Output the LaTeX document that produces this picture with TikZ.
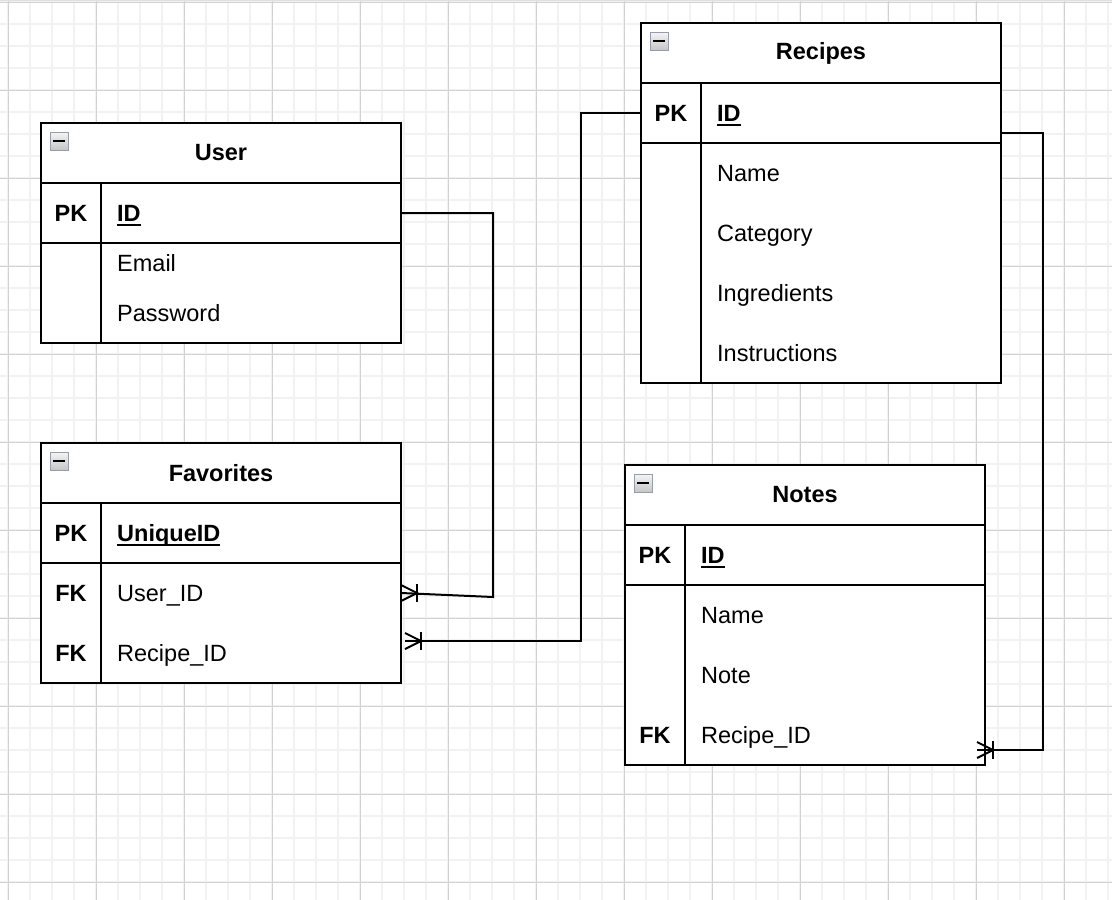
\documentclass[tikz,border=0pt]{standalone}
\usepackage{fontspec}
\setmainfont{Liberation Sans}
\usetikzlibrary{calc}

\newcommand{\erfont}{\fontsize{23.5}{28}\selectfont}
\newcommand{\pkname}[1]{\setbox0\hbox{#1}\rlap{\vrule width\wd0 height -3pt depth 5pt}\box0}
\definecolor{iconedge}{RGB}{150,156,172}

\tikzset{
  entity/.style={draw, line width=2pt, fill=white, anchor=north west, minimum width=360, inner sep=0, outer sep=0},
  titlerow/.style={draw, line width=2pt, anchor=north west, minimum width=360, minimum height=60, inner sep=0, outer sep=0, font=\erfont\bfseries},
  keyrow/.style={draw, line width=2pt, anchor=north west, minimum width=360, minimum height=60, inner sep=0, outer sep=0},
  fieldrow/.style={anchor=north west, minimum width=360, minimum height=60, inner sep=0, outer sep=0},
  keylabel/.style={anchor=base, yshift=-8.4pt, inner sep=0, font=\erfont\bfseries},
  field/.style={anchor=base west, yshift=-8.4pt, inner sep=0, font=\erfont},
  pkfield/.style={field, font=\erfont\bfseries},
  relline/.style={line width=2pt},
  minorgrid/.style={draw=gray!10, line width=1.5pt},
  majorgrid/.style={draw=gray!35, line width=1pt},
  minbox/.pic={
    \draw[draw=iconedge, line width=1pt, top color=gray!8, bottom color=gray!45] (0,0) rectangle (18,18);
    \draw[line width=2.5pt] (3,9) -- (15,9);
  },
  crowfoot/.pic={
    \draw[relline] (0,-8) -- (16,0) -- (0,8);
    \draw[relline] (16,-9) -- (16,9);
  }
}

\begin{document}
\begin{tikzpicture}[x=1pt, y=-1pt]
  \useasboundingbox[fill=white] (0,0) rectangle (1112,900);

  % grid
  \foreach \gx in {8,30,...,1112} \draw[minorgrid] (\gx,0) -- (\gx,900);
  \foreach \gy in {2,24,...,900} \draw[minorgrid] (0,\gy) -- (1112,\gy);
  \foreach \gx in {8,96,...,1112} \draw[majorgrid] (\gx,0) -- (\gx,900);
  \foreach \gy in {2,90,...,900} \draw[majorgrid] (0,\gy) -- (1112,\gy);
  \draw[draw=gray!25, line width=2pt] (0,0) -- (1112,0);

  % User
  \node[entity, minimum height=220] (user) at (41,123) {};
  \node[titlerow] (user-title) at (user.north west) {User};
  \node[keyrow] (user-pk) at (user-title.south west) {};
  \draw[relline] ($(user-pk.north west)+(60,0)$) -- ($(user.south west)+(60,0)$);
  \pic at ($(user-title.north west)+(9,9)$) {minbox};
  \node[keylabel] at ($(user-pk.west)+(30,0)$) {PK};
  \node[pkfield] (user-id) at ($(user-pk.west)+(76,0)$) {\pkname{ID}};
  \node[field] (user-email) at ($(user-pk.west)+(76,50)$) {Email};
  \node[field] (user-password) at ($(user-pk.west)+(76,100)$) {Password};

  % Favorites
  \node[entity, minimum height=240] (fav) at (41,443) {};
  \node[titlerow] (fav-title) at (fav.north west) {Favorites};
  \node[keyrow] (fav-pk) at (fav-title.south west) {};
  \node[fieldrow] (fav-user) at (fav-pk.south west) {};
  \node[fieldrow] (fav-recipe) at (fav-user.south west) {};
  \draw[relline] ($(fav-pk.north west)+(60,0)$) -- ($(fav.south west)+(60,0)$);
  \pic at ($(fav-title.north west)+(9,9)$) {minbox};
  \node[keylabel] at ($(fav-pk.west)+(30,0)$) {PK};
  \node[pkfield] (fav-uniqueid) at ($(fav-pk.west)+(76,0)$) {\pkname{UniqueID}};
  \node[keylabel] at ($(fav-user.west)+(30,0)$) {FK};
  \node[field] (fav-userid) at ($(fav-user.west)+(76,0)$) {User\_ID};
  \node[keylabel] at ($(fav-recipe.west)+(30,0)$) {FK};
  \node[field] (fav-recipeid) at ($(fav-recipe.west)+(76,0)$) {Recipe\_ID};

  % Recipes
  \node[entity, minimum height=360] (recipes) at (641,23) {};
  \node[titlerow] (recipes-title) at (recipes.north west) {Recipes};
  \node[keyrow] (recipes-pk) at (recipes-title.south west) {};
  \draw[relline] ($(recipes-pk.north west)+(60,0)$) -- ($(recipes.south west)+(60,0)$);
  \pic at ($(recipes-title.north west)+(9,9)$) {minbox};
  \node[keylabel] at ($(recipes-pk.west)+(30,0)$) {PK};
  \node[pkfield] (recipes-id) at ($(recipes-pk.west)+(76,0)$) {\pkname{ID}};
  \node[field] (recipes-name) at ($(recipes-pk.west)+(76,60)$) {Name};
  \node[field] (recipes-category) at ($(recipes-pk.west)+(76,120)$) {Category};
  \node[field] (recipes-ingredients) at ($(recipes-pk.west)+(76,180)$) {Ingredients};
  \node[field] (recipes-instructions) at ($(recipes-pk.west)+(76,240)$) {Instructions};

  % Notes
  \node[entity, minimum height=300] (notes) at (625,465) {};
  \node[titlerow] (notes-title) at (notes.north west) {Notes};
  \node[keyrow] (notes-pk) at (notes-title.south west) {};
  \node[fieldrow] (notes-fk) at ($(notes-pk.south west)+(0,120)$) {};
  \draw[relline] ($(notes-pk.north west)+(60,0)$) -- ($(notes.south west)+(60,0)$);
  \pic at ($(notes-title.north west)+(9,9)$) {minbox};
  \node[keylabel] at ($(notes-pk.west)+(30,0)$) {PK};
  \node[pkfield] (notes-id) at ($(notes-pk.west)+(76,0)$) {\pkname{ID}};
  \node[field] (notes-name) at ($(notes-pk.west)+(76,60)$) {Name};
  \node[field] (notes-note) at ($(notes-pk.west)+(76,120)$) {Note};
  \node[keylabel] at ($(notes-fk.west)+(30,0)$) {FK};
  \node[field] (notes-recipeid) at ($(notes-fk.west)+(76,0)$) {Recipe\_ID};

  % relations
  \draw[relline] (user-pk.east) -- ++(92,0) -- ++(0,384) -- (fav-user.east);
  \pic at (fav-user.east) {crowfoot};
  \draw[relline] (recipes-pk.west) -- ++(-60,0) |- ($(fav-recipe.east)+(4,-12)$);
  \pic at ($(fav-recipe.east)+(4,-12)$) {crowfoot};
  \draw[relline] ($(recipes-pk.east)+(0,20)$) -- ++(42,0) |- ($(notes-fk.east)+(-8,15)$);
  \pic at ($(notes-fk.east)+(-8,15)$) {crowfoot};
\end{tikzpicture}
\end{document}
